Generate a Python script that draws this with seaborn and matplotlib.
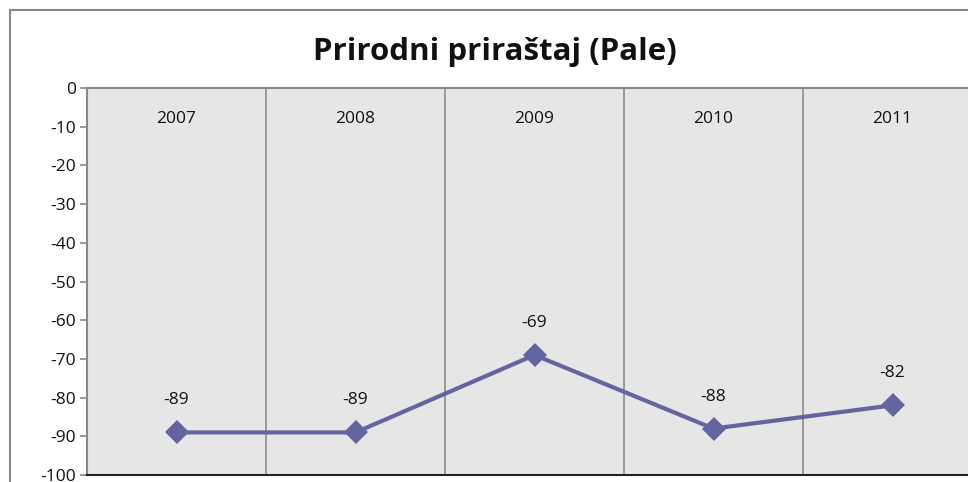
import matplotlib.pyplot as plt
import numpy as np
import pandas as pd
import seaborn as sns

years = ['2007', '2008', '2009', '2010', '2011']
growth = [-89, -89, -69, -88, -82]

df = pd.DataFrame({'pos': np.arange(len(years)), 'growth': growth})

sns.set_theme(style='white')
plt.rcParams['font.family'] = ['Open Sans', 'DejaVu Sans']
plt.rcParams['axes.unicode_minus'] = False

W, H = 968, 482
fig = plt.figure(figsize=(W / 100, H / 100), dpi=100)
# outer chart border (right and bottom are cut off in the reference)
fig.patches.append(plt.Rectangle((9.5 / W, -0.1), 1.2, (H - 9.5) / H + 0.1, transform=fig.transFigure,
                                 fill=False, edgecolor='#888888', linewidth=1.5))

left, right = 87 / W, 1.0
bottom, top = (H - 475) / H, (H - 88) / H
ax = fig.add_axes([left, bottom, right - left, top - bottom])
ax.set_facecolor('#e6e6e6')

ax = sns.lineplot(data=df, x='pos', y='growth', ax=ax, color='#6464a0', linewidth=3,
                  marker='D', markersize=12, markeredgewidth=0)

for xi, v in zip(df.pos, df.growth):
    ax.annotate(str(v), (xi, v), xytext=(0, 23), textcoords='offset points',
                ha='center', va='center', fontsize=12.5, color='#111111')

bin_w = 179.0
ax.set_xlim(-0.5, -0.5 + (W - 87) / bin_w)
ax.set_ylim(-100, 0)
ax.set_yticks(np.arange(-100, 1, 10))
ax.set_xticks(df.pos)
ax.set_xticklabels(years)
ax.set_xticks(np.arange(0.5, len(years) - 0.5, 1), minor=True)
ax.xaxis.tick_top()
ax.tick_params(axis='x', which='major', length=0, pad=-28, labelsize=12.5, labelcolor='#111111')
ax.tick_params(axis='x', which='minor', length=0)
ax.grid(True, axis='x', which='minor', color='#8c8c8c', linewidth=1.2)
ax.tick_params(axis='y', left=True, length=5, width=1.2, color='#888888', labelsize=12.5,
               labelcolor='#111111', pad=3)
ax.set_xlabel('')
ax.set_ylabel('')

for s in ['left', 'top']:
    ax.spines[s].set_color('#888888')
    ax.spines[s].set_linewidth(1.5)
ax.spines['bottom'].set_color('#222222')
ax.spines['bottom'].set_linewidth(1.5)
ax.spines['right'].set_visible(False)

fig.text(495 / W, 1 - 52 / H, 'Prirodni priraštaj (Pale)', ha='center', va='center',
         fontsize=22.5, fontweight='bold', color='#111111')

plt.savefig('out.png', dpi=100)
